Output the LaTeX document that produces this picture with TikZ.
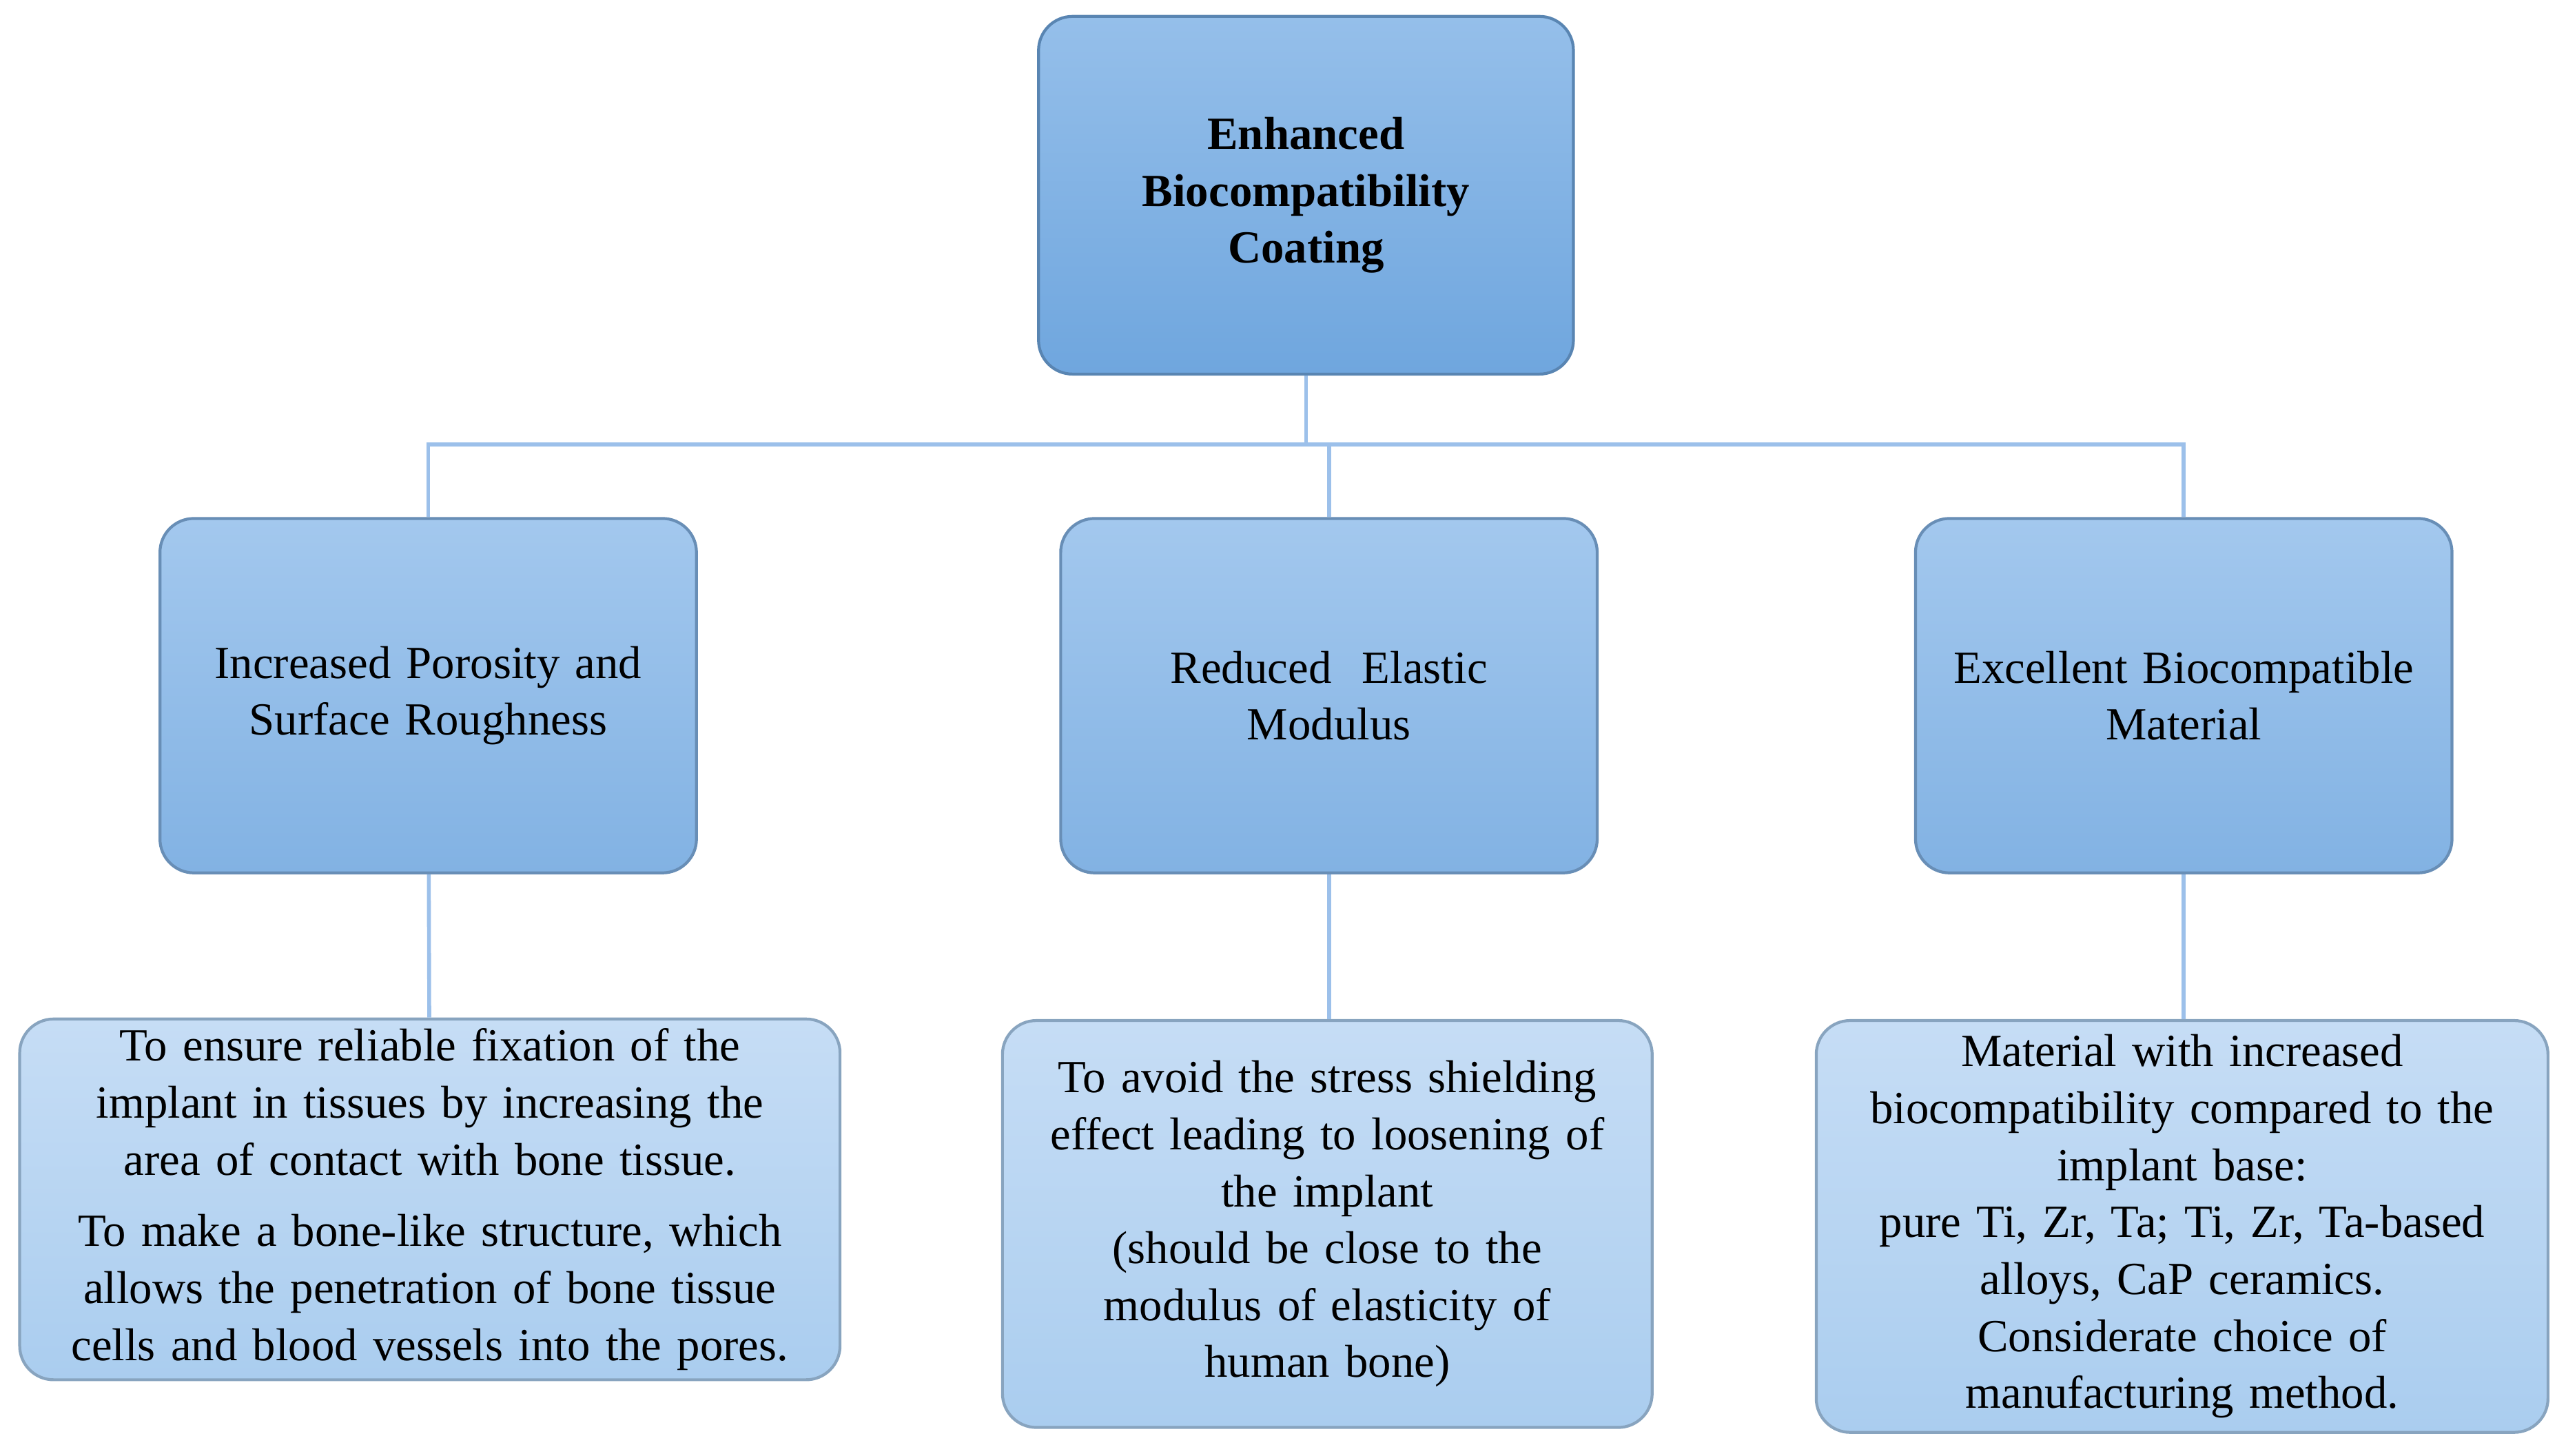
\documentclass[tikz,border=0pt]{standalone}
\usepackage{fontspec}
\setmainfont{Liberation Serif}
\begin{document}
\begin{tikzpicture}[x=0.02381cm,y=-0.02381cm,
  box/.style={draw=#1!80!black,line width=1.2pt,rounded corners=14pt,align=center,inner sep=4pt,font=\fontsize{19}{23.5}\selectfont},
  top/.style={box=topc,top color=topl,bottom color=topc},
  mid/.style={box=midc,top color=midl,bottom color=midc},
  bot/.style={box=botc,top color=botl,bottom color=botc},
  link/.style={draw=linkc,line width=1.6pt}]
\definecolor{topl}{HTML}{95BFEA}\definecolor{topc}{HTML}{6FA6DE}
\definecolor{midl}{HTML}{A3C8EE}\definecolor{midc}{HTML}{82B2E3}
\definecolor{botl}{HTML}{C6DDF5}\definecolor{botc}{HTML}{AACDEF}
\definecolor{linkc}{HTML}{9CC0EA}
\useasboundingbox (0,0) rectangle (1564,887);
\node[top,minimum width=326\pgflinewidth,text width=300*0.02381cm,minimum width=326*0.02381cm,minimum height=218*0.02381cm,font=\bfseries\fontsize{19}{23.5}\selectfont] (t) at (796,119) {Enhanced\\Biocompatibility\\Coating};
\foreach \n/\x/\t in {a/261/{Increased Porosity and\\Surface Roughness},b/810/{Reduced\ \ Elastic\\Modulus},c/1331/{Excellent Biocompatible\\Material}}
  \node[mid,text width=310*0.02381cm,minimum width=327*0.02381cm,minimum height=216*0.02381cm] (\n) at (\x,424) {\t};
\node[bot,text width=480*0.02381cm,minimum width=500*0.02381cm,minimum height=218*0.02381cm] (d) at (262,731) {To ensure reliable fixation of the\\implant in tissues by increasing the\\area of contact with bone tissue.\\[6pt]To make a bone-like structure, which\\allows the penetration of bone tissue\\cells and blood vessels into the pores.};
\node[bot,text width=380*0.02381cm,minimum width=396*0.02381cm,minimum height=248*0.02381cm] (e) at (809,746) {To avoid the stress shielding\\effect leading to loosening of\\the implant\\(should be close to the\\modulus of elasticity of\\human bone)};
\node[bot,text width=430*0.02381cm,minimum width=446*0.02381cm,minimum height=251*0.02381cm] (f) at (1330,747.5) {Material with increased\\biocompatibility compared to the\\implant base:\\pure Ti, Zr, Ta; Ti, Zr, Ta-based\\alloys, CaP ceramics.\\Considerate choice of\\manufacturing method.};
\coordinate (j) at (796,271);
\draw[link] (t.south) -- (j);
\draw[link] (a.north) |- (j) -| (c.north);
\draw[link] (j -| b.north) -- (b.north);
\draw[link] (a) -- (d); \draw[link] (b.south) -- (e.north -| b.south); \draw[link] (c.south) -- (f.north -| c.south);
\end{tikzpicture}
\end{document}
